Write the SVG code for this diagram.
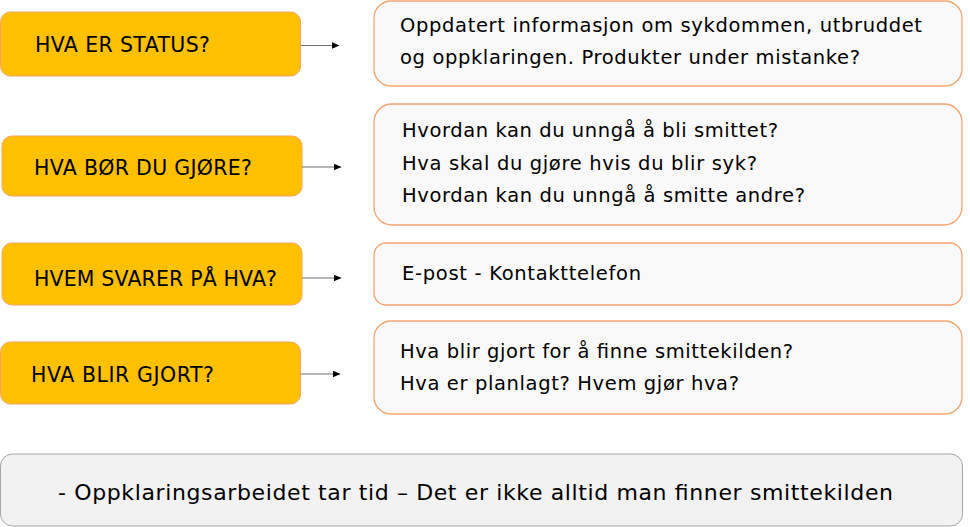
<svg xmlns="http://www.w3.org/2000/svg" width="970" height="527" viewBox="0 0 970 527">
<style>
.q{fill:#FFC000;stroke:#F4A262;stroke-width:1}
.a{fill:#F9F9F9;stroke:#F4A46E;stroke-width:1.3}
.b{fill:#F2F2F2;stroke:#A6A6A6;stroke-width:1}
text{font-family:"DejaVu Sans","Verdana",sans-serif;fill:#000}
.ql{font-size:20.5px}
.al{font-size:19.5px}
.bl{font-size:22px}
.c{stroke:#6F6F6F;stroke-width:1;fill:none}
</style>
<defs>
<marker id="arr" markerWidth="8" markerHeight="7" refX="7.5" refY="3.5" orient="auto" markerUnits="userSpaceOnUse">
<path d="M0,0 L8,3.5 L0,7 Z" fill="#000"/>
</marker>
</defs>
<g id="q1"><rect class="q" x="0.5" y="12" width="300" height="64" rx="10"/><text class="ql" x="35" y="52" textLength="175" lengthAdjust="spacing">HVA ER STATUS?</text></g>
<g id="q2"><rect class="q" x="2" y="136" width="300" height="60" rx="10"/><text class="ql" x="34" y="175" textLength="218" lengthAdjust="spacing">HVA BØR DU GJØRE?</text></g>
<g id="q3"><rect class="q" x="2" y="243" width="300" height="62" rx="10"/><text class="ql" x="34" y="286" textLength="243" lengthAdjust="spacing">HVEM SVARER PÅ HVA?</text></g>
<g id="q4"><rect class="q" x="0.5" y="342" width="300" height="62" rx="10"/><text class="ql" x="31" y="382" textLength="183" lengthAdjust="spacing">HVA BLIR GJORT?</text></g>
<g id="a1"><rect class="a" x="374" y="1" width="588" height="85" rx="17"/><text class="al" x="400" y="32" textLength="522" lengthAdjust="spacing">Oppdatert informasjon om sykdommen, utbruddet</text><text class="al" x="400" y="64" textLength="460" lengthAdjust="spacing">og oppklaringen. Produkter under mistanke?</text></g>
<g id="a2"><rect class="a" x="374" y="104" width="588" height="121" rx="18"/><text class="al" x="402" y="137" textLength="376" lengthAdjust="spacing">Hvordan kan du unngå å bli smittet?</text><text class="al" x="402" y="170" textLength="355" lengthAdjust="spacing">Hva skal du gjøre hvis du blir syk?</text><text class="al" x="402" y="202" textLength="403" lengthAdjust="spacing">Hvordan kan du unngå å smitte andre?</text></g>
<g id="a3"><rect class="a" x="374" y="243" width="588" height="62" rx="12"/><text class="al" x="402" y="280" textLength="239" lengthAdjust="spacing">E-post - Kontakttelefon</text></g>
<g id="a4"><rect class="a" x="374" y="321" width="588" height="93" rx="17"/><text class="al" x="400" y="358" textLength="393" lengthAdjust="spacing">Hva blir gjort for å finne smittekilden?</text><text class="al" x="400" y="390" textLength="339" lengthAdjust="spacing">Hva er planlagt? Hvem gjør hva?</text></g>
<g id="note"><rect class="b" x="0.5" y="454" width="962" height="72" rx="12"/><text class="bl" x="58" y="500" textLength="835" lengthAdjust="spacing">- Oppklaringsarbeidet tar tid – Det er ikke alltid man finner smittekilden</text></g>
<g id="connectors">
<line class="c" x1="301" y1="45.5" x2="339" y2="45.5" marker-end="url(#arr)"/>
<line class="c" x1="302" y1="167" x2="341" y2="167" marker-end="url(#arr)"/>
<line class="c" x1="302" y1="278" x2="341" y2="278" marker-end="url(#arr)"/>
<line class="c" x1="301" y1="374" x2="340" y2="374" marker-end="url(#arr)"/>
</g>
</svg>
